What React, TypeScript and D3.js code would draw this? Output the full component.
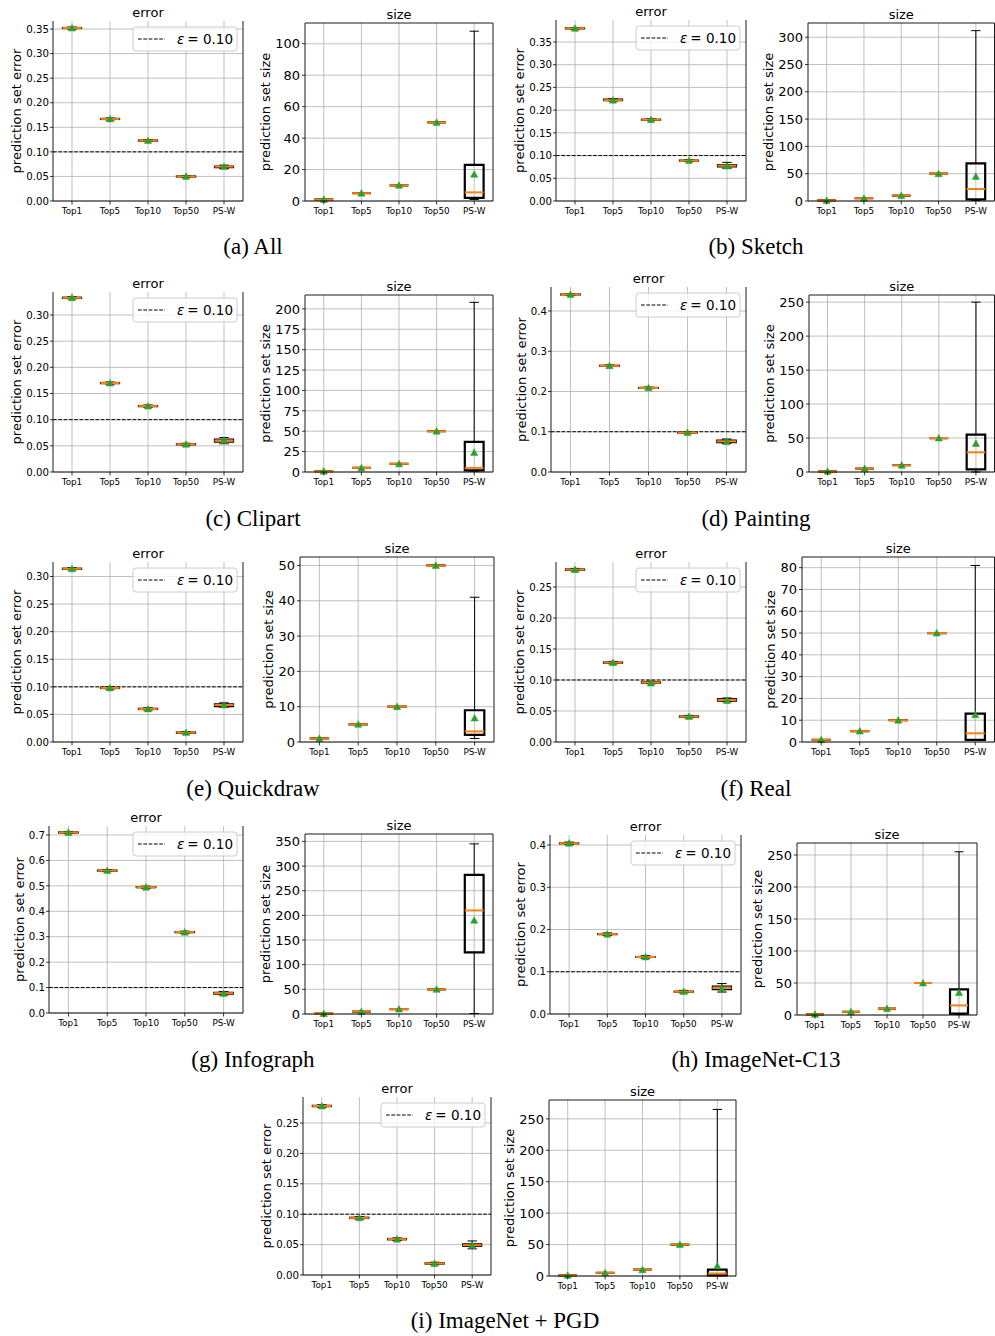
import React from "react";
import * as d3 from "d3";

// ---------------- DATA ----------------
const methods = ["Top1", "Top5", "Top10", "Top50", "PS-W"];
const epsilon = 0.1;
const legendLabel = "= 0.10";

// box tuples: [whiskerLow, q1, median, q3, whiskerHigh, mean]
type Box = [number, number, number, number, number, number];

const errorAll: Box[] = [
  [0.350, 0.351, 0.352, 0.353, 0.354, 0.352],
  [0.165, 0.166, 0.167, 0.168, 0.169, 0.167],
  [0.121, 0.122, 0.123, 0.124, 0.125, 0.123],
  [0.048, 0.049, 0.050, 0.051, 0.052, 0.050],
  [0.066, 0.068, 0.070, 0.071, 0.073, 0.070],
];
const errorSketch: Box[] = [
  [0.378, 0.379, 0.380, 0.381, 0.382, 0.380],
  [0.220, 0.221, 0.222, 0.224, 0.225, 0.222],
  [0.177, 0.178, 0.179, 0.180, 0.181, 0.179],
  [0.087, 0.088, 0.089, 0.090, 0.091, 0.089],
  [0.072, 0.075, 0.078, 0.080, 0.085, 0.077],
];
const errorClipart: Box[] = [
  [0.331, 0.332, 0.333, 0.334, 0.335, 0.333],
  [0.168, 0.169, 0.170, 0.171, 0.172, 0.170],
  [0.124, 0.125, 0.126, 0.127, 0.128, 0.126],
  [0.051, 0.052, 0.053, 0.054, 0.055, 0.053],
  [0.054, 0.057, 0.060, 0.063, 0.066, 0.060],
];
const errorPainting: Box[] = [
  [0.439, 0.440, 0.441, 0.442, 0.443, 0.441],
  [0.262, 0.263, 0.264, 0.265, 0.266, 0.264],
  [0.207, 0.208, 0.209, 0.210, 0.211, 0.209],
  [0.096, 0.097, 0.098, 0.099, 0.100, 0.098],
  [0.071, 0.073, 0.076, 0.079, 0.082, 0.075],
];
const errorQuickdraw: Box[] = [
  [0.312, 0.313, 0.314, 0.315, 0.316, 0.314],
  [0.096, 0.097, 0.098, 0.099, 0.100, 0.098],
  [0.058, 0.059, 0.060, 0.061, 0.062, 0.060],
  [0.015, 0.016, 0.017, 0.018, 0.019, 0.017],
  [0.063, 0.064, 0.067, 0.069, 0.071, 0.067],
];
const errorReal: Box[] = [
  [0.276, 0.277, 0.278, 0.279, 0.280, 0.278],
  [0.126, 0.127, 0.128, 0.129, 0.130, 0.128],
  [0.094, 0.095, 0.096, 0.097, 0.098, 0.095],
  [0.039, 0.040, 0.041, 0.042, 0.043, 0.041],
  [0.065, 0.066, 0.068, 0.070, 0.071, 0.067],
];
const errorInfograph: Box[] = [
  [0.706, 0.708, 0.710, 0.712, 0.714, 0.710],
  [0.556, 0.558, 0.560, 0.562, 0.564, 0.560],
  [0.491, 0.493, 0.495, 0.497, 0.499, 0.495],
  [0.314, 0.316, 0.318, 0.320, 0.322, 0.318],
  [0.071, 0.074, 0.078, 0.081, 0.084, 0.077],
];
const errorC13: Box[] = [
  [0.401, 0.403, 0.404, 0.405, 0.407, 0.404],
  [0.186, 0.188, 0.189, 0.190, 0.192, 0.189],
  [0.132, 0.134, 0.135, 0.136, 0.138, 0.135],
  [0.050, 0.052, 0.053, 0.054, 0.056, 0.053],
  [0.052, 0.058, 0.062, 0.066, 0.072, 0.061],
];
const errorPGD: Box[] = [
  [0.276, 0.277, 0.278, 0.279, 0.280, 0.278],
  [0.092, 0.093, 0.094, 0.095, 0.096, 0.094],
  [0.057, 0.058, 0.059, 0.060, 0.061, 0.059],
  [0.017, 0.018, 0.019, 0.020, 0.021, 0.019],
  [0.043, 0.047, 0.049, 0.051, 0.056, 0.049],
];

// Top-k set sizes are fixed at k
const sizeTopK: Box[] = [
  [1, 1, 1, 1, 1, 1],
  [5, 5, 5, 5, 5, 5],
  [10, 10, 10, 10, 10, 10],
  [50, 50, 50, 50, 50, 50],
];
const sizePswAll: Box = [1, 2, 5.5, 23, 108, 17];
const sizePswSketch: Box = [1, 3, 22, 69, 312, 45];
const sizePswClipart: Box = [1, 2, 5, 37, 208, 24];
const sizePswPainting: Box = [0, 4, 29, 55, 250, 42];
const sizePswQuickdraw: Box = [1, 2, 3, 9, 41, 6.8];
const sizePswReal: Box = [1, 1, 4, 13, 81, 12.5];
const sizePswInfograph: Box = [1, 125, 210, 282, 345, 190];
const sizePswC13: Box = [1, 2, 15, 40, 255, 35];
const sizePswPGD: Box = [1, 1, 4, 10, 265, 16];

const errTicks35 = [0, 0.05, 0.1, 0.15, 0.2, 0.25, 0.3, 0.35];
const errTicks30 = [0, 0.05, 0.1, 0.15, 0.2, 0.25, 0.3];
const errTicks25 = [0, 0.05, 0.1, 0.15, 0.2, 0.25];
const errTicks4 = [0, 0.1, 0.2, 0.3, 0.4];
const errTicks7 = [0, 0.1, 0.2, 0.3, 0.4, 0.5, 0.6, 0.7];

const sizeTicksAll = [0, 20, 40, 60, 80, 100];
const sizeTicksSketch = [0, 50, 100, 150, 200, 250, 300];
const sizeTicksClipart = [0, 25, 50, 75, 100, 125, 150, 175, 200];
const sizeTicks250 = [0, 50, 100, 150, 200, 250];
const sizeTicksQuickdraw = [0, 10, 20, 30, 40, 50];
const sizeTicksReal = [0, 10, 20, 30, 40, 50, 60, 70, 80];
const sizeTicksInfograph = [0, 50, 100, 150, 200, 250, 300, 350];

const captions = [
  "(a) All",
  "(b) Sketch",
  "(c) Clipart",
  "(d) Painting",
  "(e) Quickdraw",
  "(f) Real",
  "(g) Infograph",
  "(h) ImageNet-C13",
  "(i) ImageNet + PGD",
];

const datasets = [
  { error: errorAll, psw: sizePswAll, errTicks: errTicks35, errDigits: 2, sizeTicks: sizeTicksAll },
  { error: errorSketch, psw: sizePswSketch, errTicks: errTicks35, errDigits: 2, sizeTicks: sizeTicksSketch },
  { error: errorClipart, psw: sizePswClipart, errTicks: errTicks30, errDigits: 2, sizeTicks: sizeTicksClipart },
  { error: errorPainting, psw: sizePswPainting, errTicks: errTicks4, errDigits: 1, sizeTicks: sizeTicks250 },
  { error: errorQuickdraw, psw: sizePswQuickdraw, errTicks: errTicks30, errDigits: 2, sizeTicks: sizeTicksQuickdraw },
  { error: errorReal, psw: sizePswReal, errTicks: errTicks25, errDigits: 2, sizeTicks: sizeTicksReal },
  { error: errorInfograph, psw: sizePswInfograph, errTicks: errTicks7, errDigits: 1, sizeTicks: sizeTicksInfograph },
  { error: errorC13, psw: sizePswC13, errTicks: errTicks4, errDigits: 1, sizeTicks: sizeTicks250 },
  { error: errorPGD, psw: sizePswPGD, errTicks: errTicks25, errDigits: 2, sizeTicks: sizeTicks250 },
];

// ---------------- LAYOUT ----------------
type Frame = { x0: number; x1: number; top: number; bot: number; yMax: number };
const layout: { cap: [number, number]; err: Frame; size: Frame }[] = [
  { cap: [253, 254], err: { x0: 53, x1: 243, top: 21, bot: 201, yMax: 0.3663 }, size: { x0: 305, x1: 493, top: 23, bot: 201, yMax: 113.2 } },
  { cap: [756, 254], err: { x0: 556, x1: 746, top: 20, bot: 201, yMax: 0.3984 }, size: { x0: 808, x1: 994.5, top: 23, bot: 201, yMax: 326 } },
  { cap: [253, 526], err: { x0: 53, x1: 243, top: 292, bot: 472, yMax: 0.344 }, size: { x0: 305, x1: 493, top: 295, bot: 472, yMax: 217 } },
  { cap: [756, 526], err: { x0: 551, x1: 746, top: 287, bot: 472, yMax: 0.4596 }, size: { x0: 809, x1: 994.5, top: 295, bot: 472, yMax: 260.5 } },
  { cap: [253, 796], err: { x0: 53, x1: 243, top: 562, bot: 742, yMax: 0.3263 }, size: { x0: 300, x1: 494, top: 557, bot: 742, yMax: 52.4 } },
  { cap: [756, 796], err: { x0: 556, x1: 746, top: 562, bot: 742, yMax: 0.2903 }, size: { x0: 802, x1: 994.5, top: 557, bot: 742, yMax: 84.9 } },
  { cap: [253, 1067], err: { x0: 49, x1: 243, top: 826, bot: 1013, yMax: 0.7354 }, size: { x0: 305, x1: 493, top: 834, bot: 1014, yMax: 365 } },
  { cap: [756, 1067], err: { x0: 550, x1: 741, top: 835, bot: 1014, yMax: 0.4237 }, size: { x0: 797, x1: 977, top: 843, bot: 1015, yMax: 268.7 } },
  { cap: [505, 1328], err: { x0: 303, x1: 491, top: 1097, bot: 1275, yMax: 0.2928 }, size: { x0: 549, x1: 736, top: 1100, bot: 1276, yMax: 280 } },
];

const ORANGE = "#ff7f0e";
const GREEN = "#2ca02c";
const GRID = "#b0b0b0";

function textWidth(s: string, fs: number) {
  let w = 0;
  for (const c of s) w += c === "." ? 0.318 : 0.636;
  return w * fs;
}

function Panel({ f, kind, boxes, ticks, digits }: { f: Frame; kind: "error" | "size"; boxes: Box[]; ticks: number[]; digits: number }) {
  const x = d3.scaleBand<string>().domain(methods).range([f.x0, f.x1]);
  const y = d3.scaleLinear().domain([0, f.yMax]).range([f.bot, f.top]);
  const bw = x.bandwidth();
  const cx = (m: string) => (x(m) as number) + bw / 2;
  const hw = bw * 0.25;
  const capHw = bw * 0.125;
  const fmt = d3.format(`.${digits}f`);
  const tickFs = kind === "error" ? 10.2 : 13;
  const tickPad = kind === "error" ? 4 : 5;
  const maxW = d3.max(ticks, (t) => textWidth(fmt(t), tickFs)) as number;
  const boxSW = kind === "error" ? 1.3 : 2.2;
  const medSW = 2;
  const midY = (f.top + f.bot) / 2;
  const labelX = f.x0 - tickPad - maxW - 5;
  const lw = 104, lh = 24;
  const lx = f.x1 - 6 - lw;
  const ly = f.top + 6;
  return (
    <g>
      {/* grid */}
      {ticks.map((t) => (
        <line key={"gy" + t} x1={f.x0} x2={f.x1} y1={y(t)} y2={y(t)} stroke={GRID} strokeWidth={0.8} />
      ))}
      {methods.map((m) => (
        <line key={"gx" + m} x1={cx(m)} x2={cx(m)} y1={f.top} y2={f.bot} stroke={GRID} strokeWidth={0.8} />
      ))}
      {kind === "error" && (
        <line x1={f.x0} x2={f.x1} y1={y(epsilon)} y2={y(epsilon)} stroke="#000" strokeWidth={1} strokeDasharray="3.7 1.6" />
      )}
      {/* boxes */}
      {boxes.map((b, i) => {
        const m = methods[i];
        const c = cx(m);
        const [lo, q1, med, q3, hi, mean] = b;
        const yq1 = y(q1), yq3 = y(q3);
        return (
          <g key={m}>
            <line x1={c} x2={c} y1={yq1} y2={y(lo)} stroke="#000" strokeWidth={1} />
            <line x1={c} x2={c} y1={yq3} y2={y(hi)} stroke="#000" strokeWidth={1} />
            <line x1={c - capHw} x2={c + capHw} y1={y(lo)} y2={y(lo)} stroke="#000" strokeWidth={1} />
            <line x1={c - capHw} x2={c + capHw} y1={y(hi)} y2={y(hi)} stroke="#000" strokeWidth={1} />
            <path
              d={`M${c - hw},${yq1}H${c + hw}V${yq3}H${c - hw}Z`}
              fill="none"
              stroke="#000"
              strokeWidth={boxSW}
              strokeLinejoin="miter"
            />
            <line x1={c - hw} x2={c + hw} y1={y(med)} y2={y(med)} stroke={ORANGE} strokeWidth={medSW} />
            <path
              d={`M${c},${y(mean) - 3.6}L${c + 3.6},${y(mean) + 3}L${c - 3.6},${y(mean) + 3}Z`}
              fill={GREEN}
              stroke={GREEN}
              strokeWidth={0.5}
            />
          </g>
        );
      })}
      {/* spines */}
      <line x1={f.x0} x2={f.x0} y1={f.top} y2={f.bot} stroke="#000" strokeWidth={0.9} />
      <line x1={f.x1} x2={f.x1} y1={f.top} y2={f.bot} stroke="#000" strokeWidth={0.9} />
      <line x1={f.x0} x2={f.x1} y1={f.bot} y2={f.bot} stroke="#000" strokeWidth={0.9} />
      {kind === "size" && <line x1={f.x0} x2={f.x1} y1={f.top} y2={f.top} stroke="#000" strokeWidth={0.9} />}
      {/* y ticks */}
      {ticks.map((t) => (
        <g key={"yt" + t}>
          <line x1={f.x0 - 3} x2={f.x0} y1={y(t)} y2={y(t)} stroke="#000" strokeWidth={0.8} />
          <text x={f.x0 - tickPad} y={y(t)} dy="0.36em" textAnchor="end" fontSize={tickFs} fill="#000">
            {fmt(t)}
          </text>
        </g>
      ))}
      {/* x ticks */}
      {methods.map((m) => (
        <g key={"xt" + m}>
          <line x1={cx(m)} x2={cx(m)} y1={f.bot} y2={f.bot + 3.5} stroke="#000" strokeWidth={0.8} />
          <text x={cx(m)} y={f.bot + 13} textAnchor="middle" fontSize={8.8} fill="#000">
            {m}
          </text>
        </g>
      ))}
      {/* y label */}
      <text
        transform={`translate(${labelX},${midY}) rotate(-90)`}
        textAnchor="middle"
        fontSize={13}
        fill="#000"
      >
        {kind === "error" ? "prediction set error" : "prediction set size"}
      </text>
      {/* title */}
      <text x={(f.x0 + f.x1) / 2} y={f.top - 4} textAnchor="middle" fontSize={13} fill="#000">
        {kind}
      </text>
      {kind === "error" && (
        <g>
          <rect x={lx} y={ly} width={lw} height={lh} rx={3} fill="#fff" fillOpacity={0.8} stroke="#cccccc" strokeWidth={1} />
          <line x1={lx + 5} x2={lx + 32} y1={ly + lh / 2} y2={ly + lh / 2} stroke="#000" strokeWidth={1} strokeDasharray="3.7 1.6" />
          <text x={lx + 44} y={ly + 17} fontSize={13.5} fill="#000">
            <tspan fontStyle="italic">ε</tspan>
            <tspan dx={3}>{legendLabel}</tspan>
          </text>
        </g>
      )}
    </g>
  );
}

export default function App() {
  return (
    <svg
      width={995}
      height={1336}
      style={{ position: "absolute", left: 0, top: 0, background: "#fff" }}
      fontFamily="'DejaVu Sans', sans-serif"
    >
      <rect x={0} y={0} width={995} height={1336} fill="#fff" />
      {datasets.map((d, i) => {
        const L = layout[i];
        const sizeBoxes: Box[] = [...sizeTopK, d.psw];
        return (
          <g key={i}>
            <Panel f={L.err} kind="error" boxes={d.error} ticks={d.errTicks} digits={d.errDigits} />
            <Panel f={L.size} kind="size" boxes={sizeBoxes} ticks={d.sizeTicks} digits={0} />
            <text
              x={L.cap[0]}
              y={L.cap[1]}
              textAnchor="middle"
              fontSize={23}
              fontFamily="'Liberation Serif', 'Times New Roman', serif"
              fill="#000"
            >
              {captions[i]}
            </text>
          </g>
        );
      })}
    </svg>
  );
}
